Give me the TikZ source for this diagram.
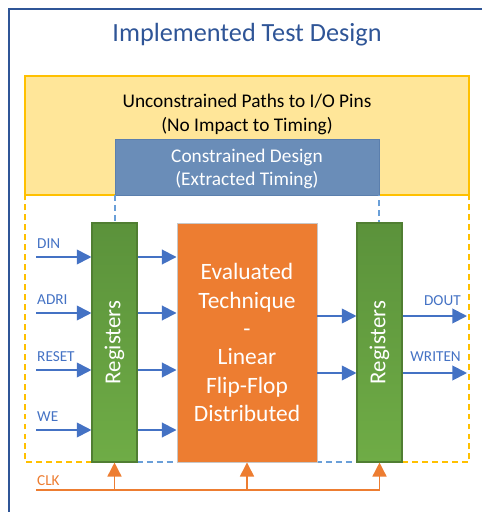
\documentclass[tikz,border=0pt]{standalone}
\usepackage{fontspec}
\setmainfont{Carlito}
\usetikzlibrary{arrows.meta}

\definecolor{ttlblue}{HTML}{2F5597}
\definecolor{sigblue}{HTML}{4472C4}
\definecolor{dashblue}{HTML}{6A9FD8}
\definecolor{uncfill}{HTML}{FFE699}
\definecolor{uncline}{HTML}{FFC000}
\definecolor{confill}{HTML}{6A8DB8}
\definecolor{conline}{HTML}{5B7FAD}
\definecolor{coreorange}{HTML}{ED7D31}
\definecolor{regdark}{HTML}{5B923B}
\definecolor{reglight}{HTML}{6FAC46}
\definecolor{regline}{HTML}{507E32}

\tikzset{
  sig/.style={sigblue,line width=1.6pt,-{Triangle[length=12.5pt,width=12.5pt]}},
  clkarr/.style={coreorange,line width=1.3pt,-{Triangle[length=12pt,width=12pt]}},
  siglbl/.style={sigblue,inner sep=0pt,font=\fontsize{13pt}{15pt}\selectfont},
  regbox/.style={draw=regline,line width=0.9pt,top color=regdark,bottom color=reglight,
    minimum width=1.35cm,minimum height=7.17cm,inner sep=0pt,
    label={[rotate=90,white,font=\fontsize{19.5pt}{22pt}\selectfont]center:Registers}},
  ydash/.style={uncline,line width=1.3pt,dash pattern=on 5pt off 3.5pt},
  bdash/.style={dashblue,line width=1.3pt,dash pattern=on 5pt off 3.5pt}
}

\begin{document}
\begin{tikzpicture}[x=0.03cm,y=-0.03cm]
%picture
\useasboundingbox (0,0) rectangle (482,512);
\draw[ttlblue,line width=1.3pt] (482,9)--(9,9)--(9,512);
\node[ttlblue,font=\fontsize{22.4pt}{26pt}\selectfont] (title) at (247,35) {Implemented Test Design};

% unconstrained / constrained areas
\node[draw=uncline,fill=uncfill,line width=1.3pt,minimum width=13.32cm,minimum height=3.57cm] (unc) at (247,135.5) {};
\node[align=center,font=\fontsize{16.5pt}{20.5pt}\selectfont] (unctxt) at (247,114) {Unconstrained Paths to I/O Pins\\(No Impact to Timing)};
\node[draw=conline,fill=confill,line width=0.8pt,minimum width=7.92cm,minimum height=1.68cm] (con) at (247,167) {};
\node[white,align=center,font=\fontsize{16.5pt}{19.5pt}\selectfont] (contxt) at (247,169) {Constrained Design\\(Extracted Timing)};
\draw[ydash] (92,462)--(25,462)--(25,195);
\draw[ydash] (402,462)--(469,462)--(469,195);
\draw[bdash] (115,195)--(115,462)--(379,462)--(379,195);

% blocks
\node[regbox] (regL) at (114.5,342.5) {};
\node[regbox] (regR) at (379.5,342.5) {};
\node[draw=black!22,fill=coreorange,line width=0.8pt,minimum width=4.2cm,minimum height=7.17cm,
  text=white,align=center,font=\fontsize{20pt}{24.2pt}\selectfont] (core) at (247,342.5)
  {Evaluated\\Technique\\-\\Linear\\Flip-Flop\\Distributed};

% inputs
\coordinate (din) at (36,257);
\coordinate (adri) at (36,313);
\coordinate (reset) at (36,370);
\coordinate (we) at (36,430);
\node[siglbl,anchor=base west] (dinl) at (37,248) {DIN};
\node[siglbl,anchor=base west] (adril) at (37,304) {ADRI};
\node[siglbl,anchor=base west] (resetl) at (37,361) {RESET};
\node[siglbl,anchor=base west] (wel) at (37,421) {WE};
\draw[sig] (din)--(din-|regL.west);
\draw[sig] (adri)--(adri-|regL.west);
\draw[sig] (reset)--(reset-|regL.west);
\draw[sig] (we)--(we-|regL.west);
\draw[sig] (din-|regL.east)--(din-|core.west);
\draw[sig] (adri-|regL.east)--(adri-|core.west);
\draw[sig] (reset-|regL.east)--(reset-|core.west);
\draw[sig] (we-|regL.east)--(we-|core.west);

% outputs
\coordinate (dout) at (467,316);
\coordinate (writen) at (467,373);
\node[siglbl,anchor=base east] (doutl) at (461,305) {DOUT};
\node[siglbl,anchor=base east] (writenl) at (461,361) {WRITEN};
\draw[sig] (dout-|core.east)--(dout-|regR.west);
\draw[sig] (writen-|core.east)--(writen-|regR.west);
\draw[sig] (dout-|regR.east)--(dout);
\draw[sig] (writen-|regR.east)--(writen);

% clock
\coordinate (clk) at (36,490);
\node[coreorange,inner sep=0pt,anchor=base west,font=\fontsize{13pt}{15pt}\selectfont] (clkl) at (37,485) {CLK};
\draw[clkarr] (clk)-|(regR.south);
\draw[clkarr] (clk-|regL.south)--(regL.south);
\draw[clkarr] (clk-|core.south)--(core.south);
\end{tikzpicture}
\end{document}
